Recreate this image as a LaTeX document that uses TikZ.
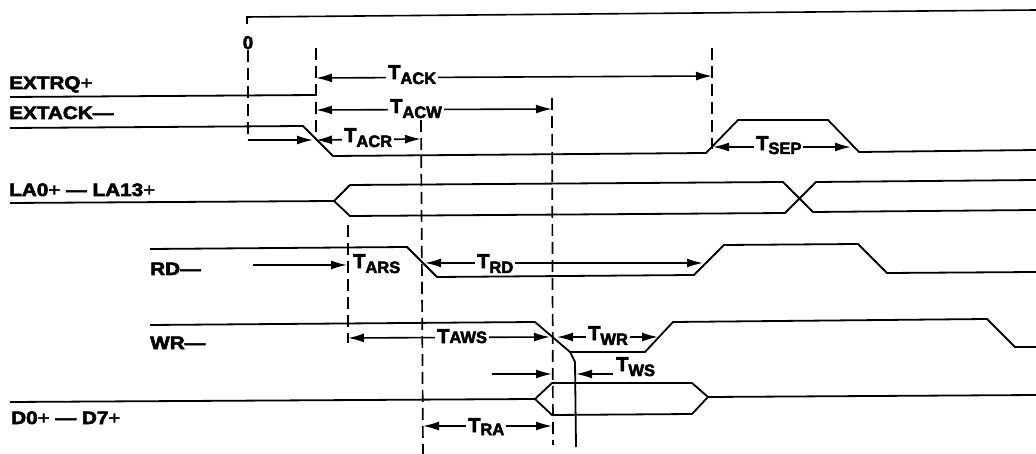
\documentclass[tikz,border=0pt]{standalone}
\usepackage{fontspec}
\setmainfont{Liberation Sans}
\newfontfamily\labfont{Liberation Sans Bold}[FakeBold=3]
\newfontfamily\plusfont{Liberation Sans}[FakeBold=2]
\usepackage{graphicx}
\usetikzlibrary{arrows.meta}
\newcommand{\sigtxt}[1]{\scalebox{1.15}[1]{\labfont\fontsize{18}{18}\selectfont #1}}
\newcommand{\plusr}{{\plusfont+}}
\newcommand{\Tsub}[2][5pt]{{\labfont\fontsize{20}{20}\selectfont T\raisebox{-#1}{\fontsize{16.5}{16.5}\selectfont #2}}}
\begin{document}
\begin{tikzpicture}[x=1pt,y=-1pt,
  wave/.style={line width=1.8pt, line join=miter},
  guide/.style={line width=1.7pt, dash pattern=on 12pt off 6pt},
  dim/.style={line width=1.6pt},
  tip/.style={-{Latex[length=16pt,width=9pt]}},
  tips/.style={{Latex[length=16pt,width=9pt]}-{Latex[length=16pt,width=9pt]}},
  siglab/.style={anchor=base west, inner sep=0pt},
  tlab/.style={anchor=base west, inner sep=2pt, fill=white},
  tlabn/.style={anchor=base west, inner sep=2pt},
]
\useasboundingbox (0,0) rectangle (1036,454);

% frame and zero
\draw[dim] (247,24) -- (247,17) -- (1036,10);
\node[anchor=base, inner sep=0pt] (zero) at (248,49) {\labfont\fontsize{18.5}{18.5}\selectfont 0};

% signal labels
\node[siglab] (lextrq) at (9,89) {\sigtxt{EXTRQ\plusr}};
\node[siglab] (lextack) at (9,119) {\sigtxt{EXTACK—}};
\node[siglab] (lla) at (9,196) {\sigtxt{LA0\plusr{} — LA13\plusr}};
\node[siglab] (lrd) at (150,275) {\sigtxt{RD—}};
\node[siglab] (lwr) at (150,349) {\sigtxt{WR—}};
\node[siglab] (ld) at (11,424) {\sigtxt{D0\plusr{} — D7\plusr}};

% dashed guides
\draw[guide] (248,50) -- (248,140);
\draw[guide] (316,48) -- (316,140);
\draw[guide] (712,48) -- (712,149);
\draw[guide] (552,98) -- (553,445);
\draw[guide] (421,120) -- (423,454);
\draw[guide] (348,225) -- (348,343);

% waveforms
\draw[wave] (10,97) -- (316,95);
\draw[wave] (10,128) -- (303,126) -- (333,156) -- (706,153) -- (738,120) -- (828,120) -- (859,152) -- (1036,150);
\draw[wave] (10,203) -- (334,201) -- (350,185) -- (783,182) -- (813,212) -- (1036,210);
\draw[wave] (334,201) -- (350,216) -- (785,213) -- (816,182) -- (1036,180);
\draw[wave] (150,249) -- (407,247) -- (437,277) -- (694,275) -- (724,245) -- (858,244) -- (887,273) -- (1036,272);
\draw[wave] (150,325) -- (535,322) -- (570,352) -- (645,352) -- (673,322) -- (987,319) -- (1015,347) -- (1036,347);
\draw[wave] (570,352) -- (575,362) -- (576,447);
\draw[wave] (10,402) -- (535,399) -- (552,383) -- (692,383) -- (708,397) -- (1036,395);
\draw[wave] (535,399) -- (552,415) -- (692,414) -- (708,397);

% dimension arrows
\draw[dim,tip] (248,140) -- (313,140);
\draw[dim,tips] (316,78) -- (712,76);
\node[tlab] (tack) at (386,79) {\Tsub{ACK}};
\draw[dim,tips] (316,110) -- (552,109);
\node[tlab] (tacw) at (388,113) {\Tsub{ACW}};
\draw[dim,tips] (316,140) -- (421,139);
\node[tlab] (tacr) at (342,142) {\Tsub{ACR}};
\draw[dim,tips] (713,147) -- (851,147);
\node[tlab] (tsep) at (754,150) {\Tsub[4pt]{SEP}};
\draw[dim,tip] (253,265) -- (347,265);
\node[tlabn] (tars) at (351,268) {\Tsub{ARS}};
\draw[dim,tips] (425,263) -- (703,263);
\node[tlab] (trd) at (475,268) {\Tsub{RD}};
\draw[dim,tips] (348,338) -- (550,337);
\node[tlab] (taws) at (435,343) {\Tsub[0pt]{AWS}};
\draw[dim,tips] (557,337) -- (658,337);
\node[tlab] (twr) at (586,340) {\Tsub{WR}};
\draw[dim,tip] (492,374) -- (552,374);
\draw[dim,tip] (613,374) -- (576,374);
\node[tlabn] (tws) at (614,371) {\Tsub{WS}};
\draw[dim,tips] (423,426) -- (552,426);
\node[tlab] (tra) at (466,432) {\Tsub[3pt]{RA}};
\end{tikzpicture}
\end{document}
